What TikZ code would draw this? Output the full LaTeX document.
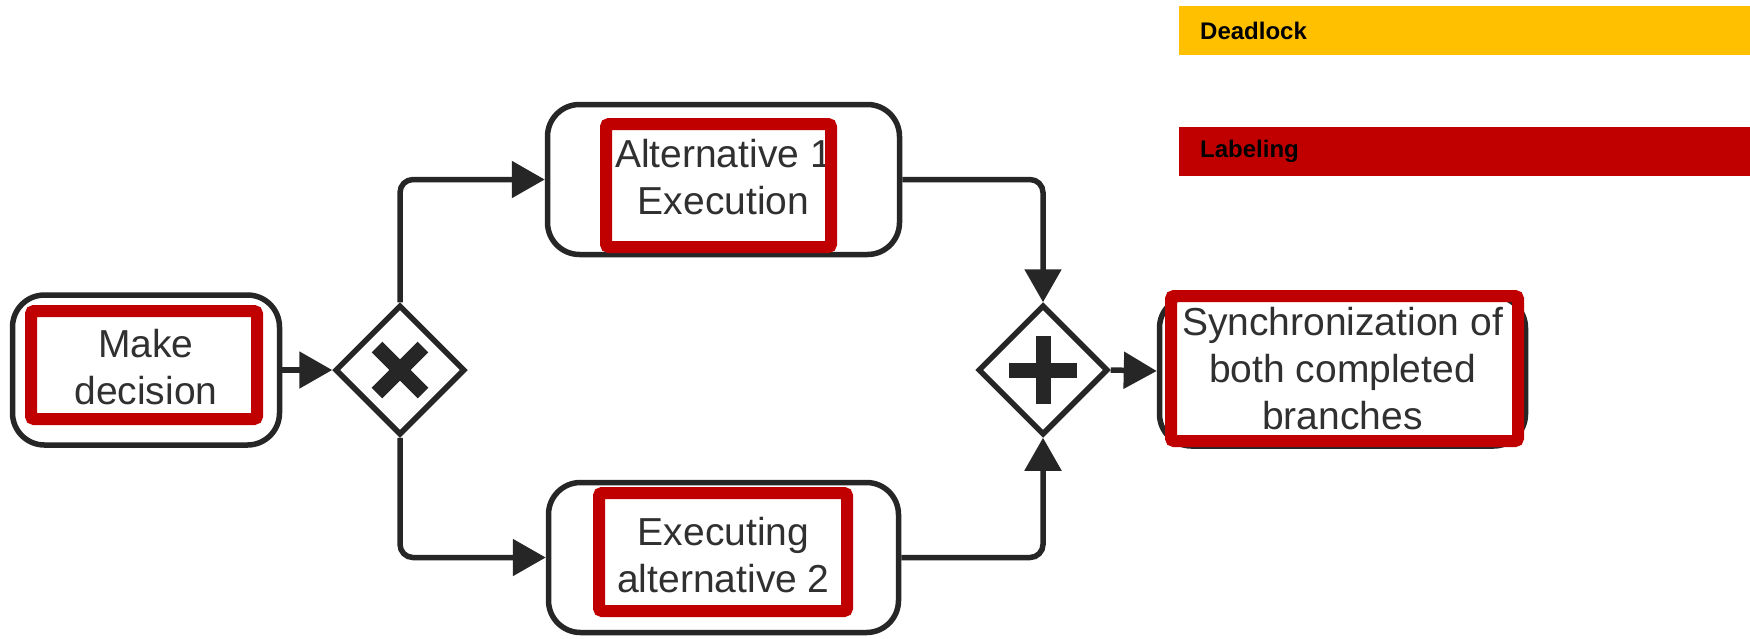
\documentclass[tikz,border=0pt]{standalone}
\usepackage{fontspec}
\setmainfont{Liberation Sans}
\usetikzlibrary{arrows.meta,shapes.geometric}
\definecolor{ink}{HTML}{262626}
\definecolor{txt}{HTML}{303030}
\definecolor{mark}{HTML}{C00000}
\definecolor{amber}{HTML}{FFC000}
% first-line strut: sets the text block a little lower in its box
\newcommand\leadstrut{\rule{0pt}{37pt}}

\begin{document}
\begin{tikzpicture}[x=1pt,y=-1pt,
  task/.style={draw=ink, line width=5.5pt, rounded corners=32pt, fill=white,
    minimum height=150pt, inner sep=0pt, align=center, text=txt,
    font=\fontsize{39}{47}\selectfont},
  gateway/.style={diamond, draw=ink, line width=5.5pt, fill=white,
    minimum width=130pt, minimum height=130pt, inner sep=0pt},
  xorgate/.style={gateway, path picture={
    \draw[ink, line width=15pt]
      ([shift={(-23pt,-23pt)}]path picture bounding box.center) -- ++(46pt,46pt);
    \draw[ink, line width=15pt]
      ([shift={(-23pt,23pt)}]path picture bounding box.center) -- ++(46pt,-46pt);}},
  andgate/.style={gateway, path picture={
    \draw[ink, line width=15pt]
      ([xshift=-34pt]path picture bounding box.center) -- ++(68pt,0pt);
    \draw[ink, line width=15pt]
      ([yshift=-34pt]path picture bounding box.center) -- ++(0pt,68pt);}},
  redmark/.style={draw=mark, line width=12pt, rounded corners=3pt, inner sep=0pt},
  bar/.style={minimum height=49pt, text width=529pt, inner xsep=21pt, inner ysep=0pt,
    align=left, font=\fontsize{24}{28}\selectfont\bfseries, text=black},
  flow/.style={draw=ink, line width=5.5pt, rounded corners=13pt,
    -{Triangle[length=33pt,width=36pt]}}
]
\useasboundingbox (0,0) rectangle (1750,638);

% tasks
\node[task, minimum width=267pt] (md) at (146,370) {\leadstrut Make\\\strut decision};
\node[task, minimum width=352pt] (a1) at (723.5,179.5) {\leadstrut Alternative 1\\\strut Execution};
\node[task, minimum width=350pt] (a2) at (723.5,557.5) {\leadstrut Executing\\\strut alternative 2};
\node[task, minimum width=366pt] (sync) at (1342.5,371)
  {\leadstrut Synchronization of\\\strut both completed\\\strut branches};

% gateways
\node[xorgate] (xg) at (400,370) {};
\node[andgate] (pg) at (1043,370) {};

% highlighted labels
\node[redmark, minimum width=226pt, minimum height=108pt] (mdr) at (144,365) {};
\node[redmark, minimum width=225pt, minimum height=123pt] (a1r) at (718.5,185.5) {};
\node[redmark, minimum width=248pt, minimum height=118pt] (a2r) at (723,552) {};
\node[redmark, minimum width=347pt, minimum height=145pt] (syncr) at (1344.5,368.5) {};

% legend
\node[bar, fill=amber, anchor=north west] (dl) at (1179,6) {Deadlock};
\node[bar, fill=mark, anchor=north west] (lb) at (1179,127) {Labeling};

% sequence flows
\draw[flow] (md.east) -- (xg.west);
\draw[flow] (xg.north) |- (a1.west);
\draw[flow] (xg.south) |- (a2.west);
\draw[flow] (a1.east) -| (pg.north);
\draw[flow] (a2.east) -| (pg.south);
\draw[flow] (pg.east) -- (sync.west);
\end{tikzpicture}
\end{document}
